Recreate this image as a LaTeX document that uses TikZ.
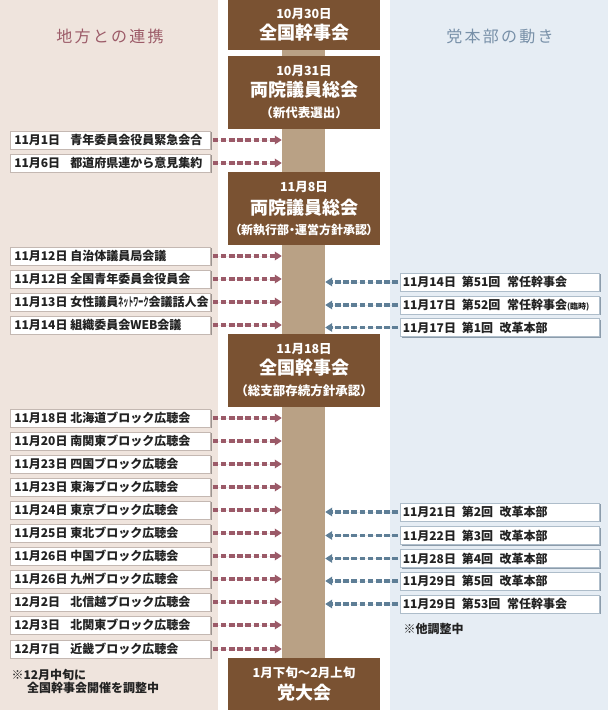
\documentclass[tikz,border=0pt]{standalone}
\usepackage{fontspec}
\setmainfont{Noto Sans CJK JP}
\usetikzlibrary{arrows.meta,shadows}
\definecolor{leftbg}{HTML}{EFE4DD}
\definecolor{rightbg}{HTML}{E6EDF4}
\definecolor{brownbox}{HTML}{7A5232}
\definecolor{tanbar}{HTML}{B9A185}
\definecolor{maroonarr}{HTML}{9B5A68}
\definecolor{bluearr}{HTML}{5E7E96}
\definecolor{headL}{HTML}{9C5B68}
\definecolor{headR}{HTML}{7890A8}
\definecolor{lborder}{HTML}{C4B8B2}
\definecolor{lshadow}{HTML}{9C9490}
\definecolor{rborder}{HTML}{AEBDCA}
\definecolor{rshadow}{HTML}{8C9CAB}
\definecolor{txt}{HTML}{222222}
\newcommand\lrow[4]{%
  \node[lbox] (#1) at (10,#2) {\makebox[192pt][l]{\makebox[56pt][l]{#3}#4}};
  \draw[larrow] (#1.east) -- (#1.east -| bar.west);}
\newcommand\rrow[5]{%
  \node[rbox] (#1) at (400,#2) {\makebox[194pt][l]{\makebox[59pt][l]{#3}#4\hspace{0.55em}#5}};
  \draw[rarrow] (#1.west) -- (#1.west -| bar.east);}
\begin{document}
\begin{tikzpicture}[x=1pt,y=-1pt,
  lbox/.style={draw=lborder, line width=0.6pt, fill=white, anchor=west,
    minimum width=200pt, minimum height=18pt, inner xsep=4pt, inner ysep=0pt,
    text=txt, font=\bfseries\fontsize{12}{14}\selectfont,
    drop shadow={fill=lshadow, opacity=1, shadow xshift=1.3pt, shadow yshift=-1.3pt}},
  rbox/.style={draw=rborder, line width=0.6pt, fill=white, anchor=west,
    minimum width=199pt, minimum height=18pt, inner xsep=2.5pt, inner ysep=0pt,
    text=txt, font=\bfseries\fontsize{12}{14}\selectfont,
    drop shadow={fill=rshadow, opacity=1, shadow xshift=1.3pt, shadow yshift=-1.3pt}},
  arr/.style={line width=3.1pt, dash pattern=on 5.6pt off 2.6pt,
    shorten <=2pt, -{Triangle[length=7pt,width=8.5pt]}},
  larrow/.style={arr, draw=maroonarr, fill=maroonarr},
  rarrow/.style={arr, draw=bluearr, fill=bluearr},
  bbox/.style={fill=brownbox, text=white, minimum width=152pt, inner sep=0pt,
    align=center, font=\bfseries\fontsize{12.5}{21}\selectfont}]
\useasboundingbox (0,0) rectangle (608,710);
\fill[leftbg] (0,0) rectangle (218,710);
\fill[rightbg] (390,0) rectangle (608,710);
\node[fill=tanbar, minimum width=43pt, minimum height=608pt, inner sep=0pt] (bar) at (303.5,354) {};

% headers
\node[text=headL, font=\fontsize{16}{16}\selectfont\addfontfeatures{LetterSpace=14}] (hl) at (110,36) {地方との連携};
\node[text=headR, font=\fontsize{16}{16}\selectfont\addfontfeatures{LetterSpace=14}] (hr) at (500,36) {党本部の動き};

% central boxes
\node[bbox, minimum height=50pt] (b1) at (304,25) {10月30日\\{\fontsize{18}{20}\selectfont 全国幹事会}};
\node[bbox, minimum height=73pt] (b2) at (304,92.5) {10月31日\\{\fontsize{18}{21}\selectfont 両院議員総会}\\{\fontsize{12.5}{21}\selectfont （新代表選出）}};
\node[bbox, minimum height=73pt] (b3) at (304,208.5) {11月8日\\[1.5pt]{\fontsize{18}{21}\selectfont 両院議員総会}\\[-1pt]{\fontsize{12}{21}\selectfont\addfontfeatures{RawFeature=+palt} （新執行部・運営方針承認）}};
\node[bbox, minimum height=73pt] (b4) at (304,370.5) {11月18日\\{\fontsize{18}{21}\selectfont 全国幹事会}\\{\fontsize{12.5}{21}\selectfont （総支部存続方針承認）}};
\node[bbox, minimum height=52pt, font=\bfseries\fontsize{12.5}{22}\selectfont] (b5) at (304,684) {1月下旬〜2月上旬\\{\fontsize{18}{22}\selectfont 党大会}};

% left rows
\lrow{l1}{140}{11月1日}{青年委員会役員緊急会合}
\lrow{l2}{163}{11月6日}{都道府県連から意見集約}
\lrow{l3}{256}{11月12日}{自治体議員局会議}
\lrow{l4}{279}{11月12日}{全国青年委員会役員会}
\lrow{l5}{302}{11月13日}{女性議員\scalebox{0.42}[1]{ネットワーク}会議話人会}
\lrow{l6}{325}{11月14日}{組織委員会WEB会議}
\lrow{l7}{418}{11月18日}{北海道ブロック広聴会}
\lrow{l8}{441}{11月20日}{南関東ブロック広聴会}
\lrow{l9}{464}{11月23日}{四国ブロック広聴会}
\lrow{l10}{487}{11月23日}{東海ブロック広聴会}
\lrow{l11}{510}{11月24日}{東京ブロック広聴会}
\lrow{l12}{533}{11月25日}{東北ブロック広聴会}
\lrow{l13}{556}{11月26日}{中国ブロック広聴会}
\lrow{l14}{579}{11月26日}{九州ブロック広聴会}
\lrow{l15}{602}{12月2日}{北信越ブロック広聴会}
\lrow{l16}{625}{12月3日}{北関東ブロック広聴会}
\lrow{l17}{649}{12月7日}{近畿ブロック広聴会}

% right rows
\rrow{r1}{282}{11月14日}{第51回}{常任幹事会}
\rrow{r2}{305}{11月17日}{第52回}{常任幹事会{\fontsize{8}{8}\selectfont (臨時)}}
\rrow{r3}{327.5}{11月17日}{第1回}{改革本部}
\rrow{r4}{512}{11月21日}{第2回}{改革本部}
\rrow{r5}{535.5}{11月22日}{第3回}{改革本部}
\rrow{r6}{558.5}{11月28日}{第4回}{改革本部}
\rrow{r7}{581}{11月29日}{第5回}{改革本部}
\rrow{r8}{604}{11月29日}{第53回}{常任幹事会}

% notes
\node[anchor=west, align=left, text=txt, font=\bfseries\fontsize{12}{13.5}\selectfont] (n1) at (8,681.5) {※12月中旬に\\\hspace*{1.3em}全国幹事会開催を調整中};
\node[anchor=west, text=txt, font=\bfseries\fontsize{12}{13.5}\selectfont] (n2) at (400,629) {※他調整中};
\end{tikzpicture}
\end{document}
